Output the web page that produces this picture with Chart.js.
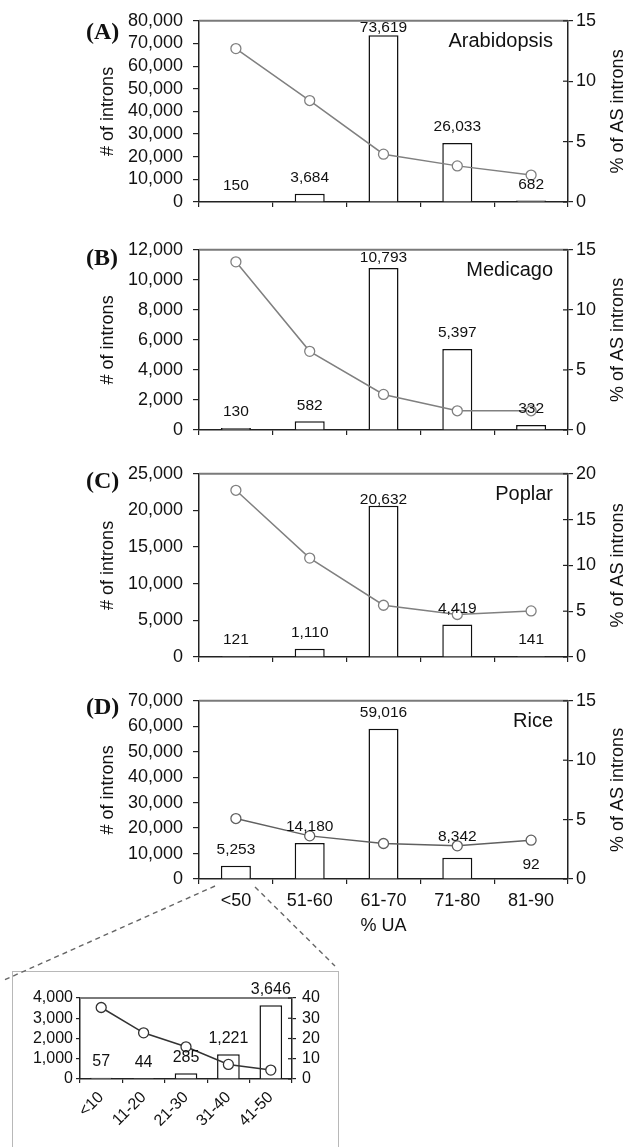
<!DOCTYPE html>
<html><head><meta charset="utf-8">
<script src="https://cdn.jsdelivr.net/npm/chart.js@4.4.1/dist/chart.umd.min.js"></script>
<style>
html,body{margin:0;padding:0;background:#fff;width:629px;height:1147px;overflow:hidden;position:relative;}
.w{position:absolute;}
</style></head><body>
<div id="box" style="position:absolute;left:12px;top:971px;width:325px;height:200px;border:1px solid #b8b8b8;"></div>
<div class="w" id="wA"><canvas id="cA"></canvas></div>
<div class="w" id="wB"><canvas id="cB"></canvas></div>
<div class="w" id="wC"><canvas id="cC"></canvas></div>
<div class="w" id="wD"><canvas id="cD"></canvas></div>
<div class="w" id="wE"><canvas id="cE"></canvas></div>
<svg style="position:absolute;left:0;top:0;pointer-events:none" width="629" height="1147">
  <line x1="215" y1="886" x2="2" y2="981" stroke="#666" stroke-width="1.4" stroke-dasharray="5,4"/>
  <line x1="255" y1="887" x2="335" y2="966" stroke="#666" stroke-width="1.4" stroke-dasharray="5,4"/>
</svg>
<script>
// ---------- data ----------
const categories = ['<50', '51-60', '61-70', '71-80', '81-90'];
const insetCategories = ['<10', '11-20', '21-30', '31-40', '41-50'];

const arabidopsisIntrons = [150, 3684, 73619, 26033, 682];
const arabidopsisAS      = [12.7, 8.4, 3.96, 2.99, 2.23];
const medicagoIntrons    = [130, 582, 10793, 5397, 332];
const medicagoAS         = [14.0, 6.55, 2.96, 1.6, 1.6];
const poplarIntrons      = [121, 1110, 20632, 4419, 141];
const poplarAS           = [18.2, 10.8, 5.65, 4.64, 5.03];
const riceIntrons        = [5253, 14180, 59016, 8342, 92];
const riceAS             = [5.09, 3.63, 2.99, 2.79, 3.27];
const riceLowUAIntrons   = [57, 44, 285, 1221, 3646];
const riceLowUAAS        = [35.3, 22.8, 15.9, 7.2, 4.4];

// axis tick ranges [min, max, step]
const arabidopsisIntronTicks = [0, 80000, 10000];
const medicagoIntronTicks    = [0, 12000, 2000];
const poplarIntronTicks      = [0, 25000, 5000];
const riceIntronTicks        = [0, 70000, 10000];
const insetIntronTicks       = [0, 4000, 1000];
const asTicks15 = [0, 15, 5];
const asTicks20 = [0, 20, 5];
const asTicks40 = [0, 40, 10];

// ---------- drawing helpers ----------
const SANS = '"Liberation Sans", Arial, sans-serif';
const fmt = v => Number(v).toLocaleString('en-US');

const panelDeco = {
  id: 'panelDeco',
  afterDatasetsDraw(chart, args, o) {
    const ctx = chart.ctx, ca = chart.chartArea;
    ctx.save();
    // top frame line
    ctx.strokeStyle = '#7a7a7a'; ctx.lineWidth = 2;
    ctx.beginPath(); ctx.moveTo(ca.left, ca.top); ctx.lineTo(ca.right, ca.top); ctx.stroke();
    // inner ticks on right axis
    const y1 = chart.scales.y1;
    ctx.strokeStyle = '#222'; ctx.lineWidth = 1.2;
    y1.ticks.forEach((t, i) => {
      const p = y1.getPixelForTick(i);
      ctx.beginPath(); ctx.moveTo(ca.right - o.innerTick, p); ctx.lineTo(ca.right, p); ctx.stroke();
    });
    // bar value labels
    const meta = chart.getDatasetMeta(0);
    const vals = chart.data.datasets[0].data;
    ctx.fillStyle = '#111'; ctx.font = o.labelFont;
    ctx.textAlign = 'center'; ctx.textBaseline = 'middle';
    meta.data.forEach((el, i) => {
      const off = (o.labelOffsets && o.labelOffsets[i] != null) ? o.labelOffsets[i] : o.labelOffset;
      ctx.fillText(fmt(vals[i]), el.x, el.y - off);
    });
    // panel letter, species, axis titles
    if (o.letter) {
      ctx.font = 'bold 24px "Liberation Serif", "Times New Roman", serif';
      ctx.textAlign = 'left'; ctx.textBaseline = 'middle';
      ctx.fillText(o.letter, 86, ca.top + o.letterDy);
    }
    if (o.species) {
      ctx.font = '20px ' + SANS;
      ctx.textAlign = 'right'; ctx.textBaseline = 'middle';
      ctx.fillText(o.species, ca.right - 15, ca.top + 21);
    }
    const midY = (ca.top + ca.bottom) / 2;
    if (o.leftTitle) {
      ctx.font = '18px ' + SANS; ctx.textAlign = 'center'; ctx.textBaseline = 'middle';
      ctx.save(); ctx.translate(108, midY); ctx.rotate(-Math.PI / 2); ctx.fillText(o.leftTitle, 0, 0); ctx.restore();
    }
    if (o.rightTitle) {
      ctx.font = '18px ' + SANS; ctx.textAlign = 'center'; ctx.textBaseline = 'middle';
      ctx.save(); ctx.translate(618, midY); ctx.rotate(-Math.PI / 2); ctx.fillText(o.rightTitle, 0, 0); ctx.restore();
    }
    if (o.xTitle) {
      ctx.font = '18px ' + SANS; ctx.textAlign = 'center'; ctx.textBaseline = 'middle';
      ctx.fillText(o.xTitle, (ca.left + ca.right) / 2, ca.bottom + 47);
    }
    ctx.restore();
  }
};

const panels = [
  { id: 'A', top: 20,  bottom: 202, xh: 30, W: 629, yW: 199, y1W: 61, cats: categories, bars: arabidopsisIntrons, line: arabidopsisAS,
    yT: arabidopsisIntronTicks, y1T: asTicks15, letter: '(A)', letterDy: 12, species: 'Arabidopsis', labelOffsets: {2: 7.5},
    showCats: false, lineColor: '#808080', barPct: 0.407, fontSize: 18, labelFont: '15.5px ' + SANS, titles: true },
  { id: 'B', top: 249, bottom: 430, xh: 30, W: 629, yW: 199, y1W: 61, cats: categories, bars: medicagoIntrons, line: medicagoAS,
    yT: medicagoIntronTicks, y1T: asTicks15, letter: '(B)', letterDy: 9, species: 'Medicago', labelOffsets: {2: 10},
    showCats: false, lineColor: '#808080', barPct: 0.407, fontSize: 18, labelFont: '15.5px ' + SANS, titles: true },
  { id: 'C', top: 473, bottom: 657, xh: 30, W: 629, yW: 199, y1W: 61, cats: categories, bars: poplarIntrons, line: poplarAS,
    yT: poplarIntronTicks, y1T: asTicks20, letter: '(C)', letterDy: 8, species: 'Poplar', labelOffsets: {2: 6},
    showCats: false, lineColor: '#808080', barPct: 0.407, fontSize: 18, labelFont: '15.5px ' + SANS, titles: true },
  { id: 'D', top: 700, bottom: 879, xh: 60, W: 629, yW: 199, y1W: 61, cats: categories, bars: riceIntrons, line: riceAS,
    yT: riceIntronTicks, y1T: asTicks15, letter: '(D)', letterDy: 7, species: 'Rice', labelOffsets: {3: 21, 4: 14},
    showCats: true, lineColor: '#606060', barPct: 0.407, fontSize: 18, labelFont: '15.5px ' + SANS, titles: true, xTitle: '% UA' },
  { id: 'E', top: 998, bottom: 1079, xh: 68, W: 340, yW: 80, y1W: 48, cats: insetCategories, bars: riceLowUAIntrons, line: riceLowUAAS,
    yT: insetIntronTicks, y1T: asTicks40, letter: null, species: null, labelOffsets: {},
    showCats: true, rotate: true, lineColor: '#333', barPct: 0.535, fontSize: 16, labelFont: '16px ' + SANS, titles: false, small: true }
];

function makeChart(p) {
  const wrap = document.getElementById('w' + p.id);
  const H = p.bottom - p.top + 20 + p.xh;
  wrap.style.left = '0px'; wrap.style.top = (p.top - 20) + 'px';
  wrap.style.width = p.W + 'px'; wrap.style.height = H + 'px';
  const tickFont = { family: SANS, size: p.fontSize };
  new Chart(document.getElementById('c' + p.id), {
    type: 'bar',
    data: {
      labels: p.cats,
      datasets: [
        { type: 'bar', data: p.bars, yAxisID: 'y', backgroundColor: '#fff', borderColor: '#111', borderWidth: 1.5,
          barPercentage: p.barPct, categoryPercentage: 1, order: 1 },
        { type: 'line', data: p.line, yAxisID: 'y1', borderColor: p.lineColor, borderWidth: 1.5, tension: 0,
          pointRadius: 5, pointBackgroundColor: '#fff', pointBorderColor: p.lineColor, pointBorderWidth: 1.3, order: 0 }
      ]
    },
    options: {
      responsive: true, maintainAspectRatio: false, animation: false,
      layout: { padding: { top: 20, left: 0, right: 0, bottom: 0 } },
      plugins: {
        legend: { display: false }, tooltip: { enabled: false },
        panelDeco: {
          innerTick: p.small ? 4 : 5, labelFont: p.labelFont, labelOffset: 16, labelOffsets: p.labelOffsets,
          letter: p.letter, letterDy: p.letterDy, species: p.species,
          leftTitle: p.titles ? '# of introns' : null, rightTitle: p.titles ? '% of AS introns' : null, xTitle: p.xTitle || null
        }
      },
      scales: {
        x: {
          offset: true,
          grid: { display: true, drawOnChartArea: false, drawTicks: true, tickLength: p.small ? 4 : 5, color: '#222', lineWidth: 1.2, offset: true },
          border: { display: true, color: '#222', width: 1.5 },
          ticks: { display: p.showCats, font: tickFont, color: '#111', padding: p.rotate ? 5 : 6, autoSkip: false,
                   maxRotation: p.rotate ? 45 : 0, minRotation: p.rotate ? 45 : 0 },
          afterFit(s) { s.height = p.xh; }
        },
        y: {
          position: 'left', min: p.yT[0], max: p.yT[1],
          ticks: { stepSize: p.yT[2], callback: v => fmt(v), font: tickFont, color: '#111', padding: p.small ? 3 : 10, autoSkip: false },
          grid: { drawOnChartArea: false, tickLength: p.small ? 4 : 6, color: '#222', lineWidth: 1.2 },
          border: { display: true, color: '#222', width: 1.5 },
          afterFit(s) { s.width = p.yW; }
        },
        y1: {
          position: 'right', min: p.y1T[0], max: p.y1T[1],
          ticks: { stepSize: p.y1T[2], font: tickFont, color: '#111', padding: p.small ? 6 : 3, autoSkip: false },
          grid: { drawOnChartArea: false, tickLength: p.small ? 4 : 5, color: '#222', lineWidth: 1.2 },
          border: { display: true, color: '#222', width: 1.5 },
          afterFit(s) { s.width = p.y1W; }
        }
      }
    },
    plugins: [panelDeco]
  });
}
panels.forEach(makeChart);
</script>
</body></html>
